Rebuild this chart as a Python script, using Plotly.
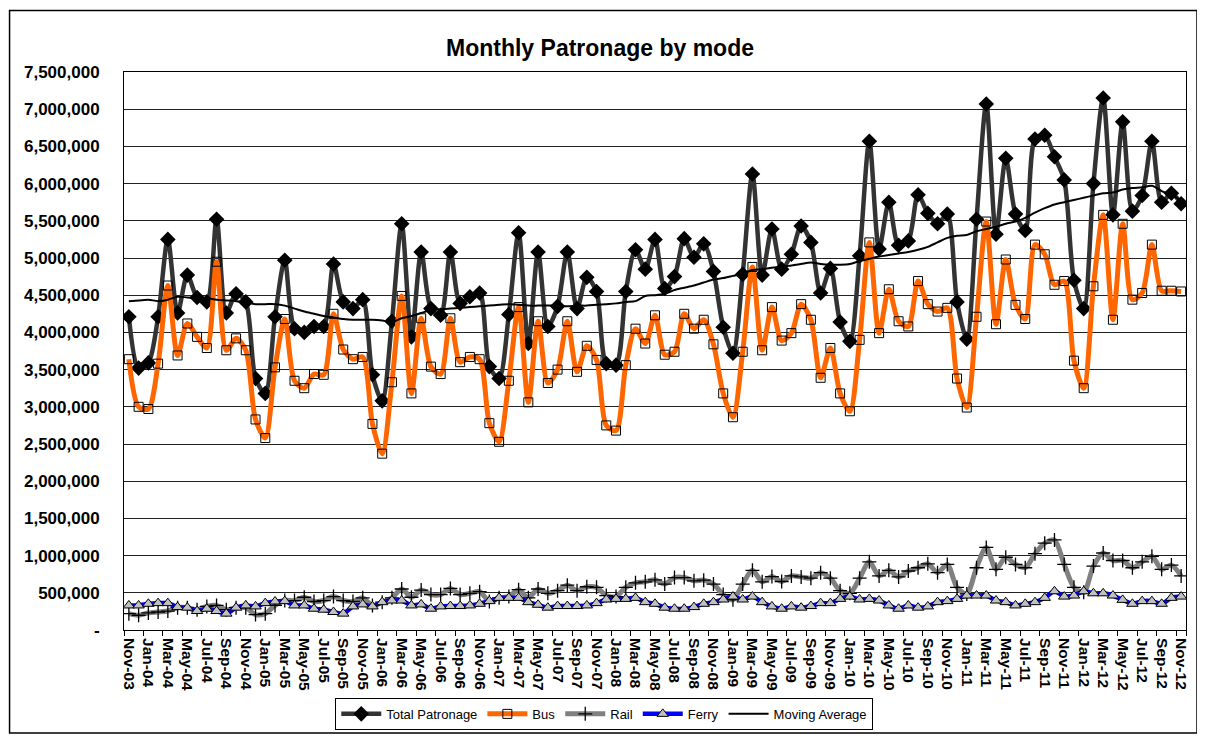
import pandas as pd
import plotly.graph_objects as go

months = [d.strftime("%b-%y") for d in pd.date_range("2003-11-01", "2012-11-01", freq="MS")]

total = [4210, 3520, 3590, 4210, 5250, 4260, 4770, 4470, 4410, 5520, 4260, 4520, 4410, 3380, 3180, 4210,
         4970, 4050, 4000, 4080, 4080, 4920, 4410, 4320, 4440, 3430, 3080, 4150, 5460, 3940, 5080, 4320,
         4230, 5080, 4390, 4480, 4530, 3540, 3380, 4240, 5340, 3850, 5080, 4080, 4350, 5080, 4320, 4740,
         4550, 3580, 3560, 4550, 5110, 4850, 5250, 4590, 4750, 5260, 5010, 5190, 4820, 4070, 3720, 4780,
         6130, 4770, 5390, 4850, 5050, 5430, 5210, 4530, 4860, 4140, 3880, 5030, 6570, 5120, 5750, 5170,
         5230, 5850, 5600, 5460, 5590, 4410, 3910, 5520, 7070, 5320, 6340, 5590, 5370, 6600, 6650, 6360,
         6050, 4700, 4320, 6000, 7150, 5580, 6830, 5630, 5840, 6570, 5750, 5870, 5730]
bus = [3640, 3000, 2970, 3580, 4630, 3690, 4120, 3940, 3790, 4950, 3760, 3920, 3760, 2830, 2580, 3530,
       4180, 3350, 3250, 3440, 3430, 4250, 3770, 3640, 3670, 2770, 2370, 3330, 4490, 3180, 4190, 3540,
       3440, 4190, 3600, 3670, 3640, 2780, 2530, 3350, 4340, 3060, 4150, 3320, 3500, 4150, 3470, 3820,
       3630, 2750, 2680, 3560, 4050, 3850, 4230, 3700, 3740, 4250, 4050, 4170, 3840, 3180, 2860, 3740,
       4880, 3760, 4340, 3890, 3990, 4380, 4170, 3390, 3790, 3180, 2940, 3900, 5210, 3990, 4580, 4150,
       4080, 4690, 4380, 4280, 4330, 3380, 2990, 4210, 5490, 4110, 4980, 4370, 4180, 5180, 5050, 4640,
       4690, 3620, 3250, 4620, 5580, 4170, 5460, 4440, 4530, 5180, 4560, 4560, 4550]
rail = [220, 198, 229, 242, 255, 300, 300, 273, 317, 330, 273, 300, 300, 207, 220, 330,
        396, 396, 440, 383, 396, 449, 396, 383, 432, 330, 374, 432, 551, 440, 537, 476,
        476, 559, 476, 493, 515, 383, 432, 449, 542, 432, 551, 493, 529, 603, 529, 581,
        573, 463, 449, 573, 634, 648, 674, 617, 705, 705, 661, 670, 617, 476, 405, 617,
        802, 648, 718, 652, 727, 714, 696, 771, 696, 529, 493, 696, 916, 727, 802, 714,
        793, 837, 890, 771, 881, 573, 485, 837, 1110, 815, 978, 881, 837, 1026, 1167, 1211,
        881, 573, 507, 859, 1035, 934, 934, 837, 916, 991, 815, 872, 727]
ferry = [330, 330, 352, 361, 361, 308, 300, 255, 286, 255, 220, 300, 330, 317, 361, 383,
         388, 330, 330, 286, 273, 242, 220, 317, 344, 317, 374, 396, 396, 330, 344, 286,
         317, 322, 322, 330, 352, 388, 432, 432, 432, 374, 339, 300, 322, 322, 322, 330,
         361, 410, 418, 418, 432, 374, 352, 300, 286, 286, 308, 352, 374, 410, 449, 410,
         449, 374, 317, 286, 317, 300, 322, 361, 361, 418, 449, 410, 418, 396, 330, 286,
         330, 300, 317, 374, 388, 418, 463, 463, 463, 396, 374, 330, 352, 374, 432, 520,
         449, 463, 520, 493, 493, 463, 405, 352, 388, 388, 352, 432, 449]
moving_avg = [4420, 4430, 4440, 4420, 4440, 4480, 4470, 4460, 4460, 4440, 4430, 4420, 4400, 4380, 4380, 4380,
              4360, 4320, 4280, 4250, 4220, 4200, 4180, 4170, 4170, 4170, 4160, 4140, 4190, 4220, 4260, 4300,
              4310, 4320, 4330, 4340, 4350, 4360, 4370, 4380, 4370, 4360, 4360, 4360, 4360, 4350, 4360, 4360,
              4370, 4380, 4390, 4410, 4420, 4490, 4500, 4520, 4570, 4600, 4630, 4670, 4710, 4730, 4760, 4790,
              4840, 4850, 4870, 4880, 4900, 4920, 4940, 4920, 4910, 4910, 4920, 4960, 4990, 5020, 5040, 5060,
              5080, 5110, 5150, 5210, 5270, 5300, 5310, 5360, 5390, 5420, 5460, 5490, 5540, 5610, 5670, 5720,
              5750, 5780, 5810, 5840, 5870, 5880, 5920, 5940, 5950, 5970, 5900, 5850, 5770]

y_ticks = [0, 500000, 1000000, 1500000, 2000000, 2500000, 3000000, 3500000, 4000000,
           4500000, 5000000, 5500000, 6000000, 6500000, 7000000, 7500000]
y_ticktext = ["-"] + [f"{v:,}" for v in y_ticks[1:]]

K = 1000
x = list(range(len(months)))
FONT = "Liberation Sans, Arial, sans-serif"

fig = go.Figure()
fig.add_trace(go.Scatter(
    x=x, y=[v * K for v in total], name="Total Patronage", mode="lines+markers",
    line=dict(color="#333333", width=4.5, shape="spline", smoothing=0.8),
    marker=dict(symbol="diamond", size=12, color="#000000")))
fig.add_trace(go.Scatter(
    x=x, y=[v * K for v in bus], name="Bus", mode="lines+markers",
    line=dict(color="#FF6600", width=5, shape="spline", smoothing=0.8),
    marker=dict(symbol="square-open", size=9, color="#000000", line=dict(width=1, color="#000000"))))
fig.add_trace(go.Scatter(
    x=x, y=[v * K for v in rail], name="Rail", mode="lines+markers",
    line=dict(color="#808080", width=5, shape="spline", smoothing=0.8),
    marker=dict(symbol="cross-thin-open", size=10, color="#000000", line=dict(width=1.3, color="#000000"))))
fig.add_trace(go.Scatter(
    x=x, y=[v * K for v in ferry], name="Ferry", mode="lines+markers",
    line=dict(color="#0000FF", width=4.5, shape="spline", smoothing=0.8),
    marker=dict(symbol="triangle-up", size=10, color="#C0C0C0", line=dict(width=1, color="#000000"))))
fig.add_trace(go.Scatter(
    x=x, y=[v * K for v in moving_avg], name="Moving Average", mode="lines",
    line=dict(color="#000000", width=2, shape="spline", smoothing=0.8)))

# page offset (browser body margin)
OFF = 8
W, H = 1205 - OFF, 738 - OFF
ml = 123.5 - OFF
mt = 71.5 - OFF
mr = W - (1186 - OFF)
mb = H - (630 - OFF)
pw, ph = W - ml - mr, H - mt - mb


def px(xp):
    return (xp - OFF - ml) / pw


def py(yp):
    return (H - mb - (yp - OFF)) / ph


fig.update_layout(
    width=W, height=H,
    margin=dict(l=ml, r=mr, t=mt, b=mb, autoexpand=False),
    paper_bgcolor="white", plot_bgcolor="white",
    font=dict(family=FONT, color="#000000"),
    title=dict(text="<b>Monthly Patronage by mode</b>", xref="container", yref="container",
               x=(600 - OFF) / W, xanchor="center",
               y=1 - (48 - OFF) / H, yanchor="middle", font=dict(size=23, family=FONT)),
    showlegend=True,
    legend=dict(orientation="h", x=px(604), xanchor="center", y=py(714), yanchor="middle",
                bgcolor="white", bordercolor="#000000", borderwidth=1,
                font=dict(size=13, family=FONT), itemwidth=40, tracegroupgap=0),
    xaxis=dict(range=[-0.5, len(months) - 0.5], tickmode="array",
               tickvals=x[::2], ticktext=months[::2], tickangle=90,
               tickfont=dict(size=15.5, family=FONT, weight="bold"),
               ticks="", showgrid=False, zeroline=False,
               showline=True, linecolor="#000000", linewidth=1, mirror=True,
               ticklabelstandoff=4, automargin=False,
               minor=dict(tickmode="array", tickvals=[v - 0.5 for v in x[::2]] + [len(months) - 0.5],
                          ticks="outside", ticklen=5, tickcolor="#000000", tickwidth=1, showgrid=False)),
    yaxis=dict(range=[0, 7500000], tickmode="array", tickvals=y_ticks, ticktext=y_ticktext,
               tickfont=dict(size=17, family=FONT, weight="bold"),
               showgrid=True, gridcolor="#222222", gridwidth=1, zeroline=False,
               showline=True, linecolor="#000000", linewidth=1, mirror=True,
               ticks="", ticklabelstandoff=20, automargin=False),
    shapes=[dict(type="rect", xref="paper", yref="paper",
                 x0=px(9), x1=px(1197), y0=py(733), y1=py(10),
                 line=dict(color="#000000", width=1.5), fillcolor="rgba(0,0,0,0)", layer="below")],
)

fig.write_html("out.html")
